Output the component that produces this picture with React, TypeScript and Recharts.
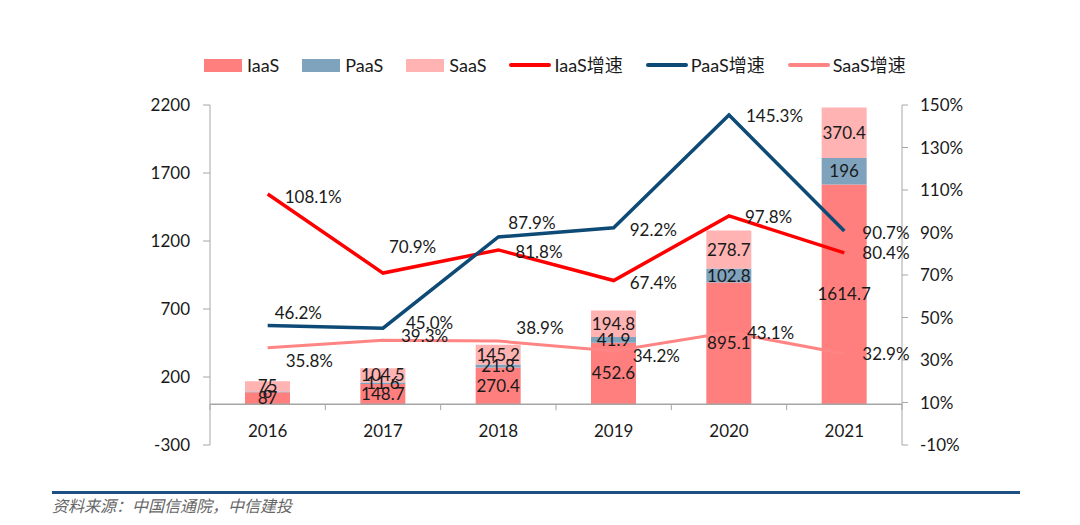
import {
  ComposedChart,
  Bar,
  Line,
  XAxis,
  YAxis,
  LabelList,
  ReferenceLine,
} from "recharts";

const years = ["2016", "2017", "2018", "2019", "2020", "2021"];
const iaas = [87, 148.7, 270.4, 452.6, 895.1, 1614.7];
const paas = [6, 11.6, 21.8, 41.9, 102.8, 196];
const saas = [75, 104.5, 145.2, 194.8, 278.7, 370.4];
const iaasGrowth = [108.1, 70.9, 81.8, 67.4, 97.8, 80.4];
const paasGrowth = [46.2, 45.0, 87.9, 92.2, 145.3, 90.7];
const saasGrowth = [35.8, 39.3, 38.9, 34.2, 43.1, 32.9];
const leftTicks = [-300, 200, 700, 1200, 1700, 2200];
const rightTicks = [-10, 10, 30, 50, 70, 90, 110, 130, 150];

const data = years.map((year, i) => ({
  year,
  iaas: iaas[i],
  paas: paas[i],
  saas: saas[i],
  iaasGrowth: iaasGrowth[i],
  paasGrowth: paasGrowth[i],
  saasGrowth: saasGrowth[i],
}));

// label nudges for the growth lines, [dx, dy] from the point
const iaasNudge = [[17, 2], [6, -27], [17, 2], [16, 2], [16, 1], [18, 0]];
const paasNudge = [[7, -13], [23, -6], [10, -14], [16, 2], [17, 1], [18, 1]];
const saasNudge = [[18, 13], [18, -5], [18, -14], [19, 4], [18, 0], [18, 0]];

const FONT = "Lato, 'Noto Sans', sans-serif";
const TXT = "#1a1a1a";
const AXIS = "#a6a6a6";

const C = {
  iaas: "#ff7f7f",
  paas: "#7fa2bd",
  saas: "#ffb3b3",
  iaasLine: "#ff0000",
  paasLine: "#0e4a76",
  saasLine: "#ff8585",
};

// plot geometry
const PLOT_LEFT = 210;
const PLOT_RIGHT = 902;
const PLOT_TOP = 105;
const PLOT_BOTTOM = 445;
const X_AXIS_H = 30;
const zeroY = PLOT_BOTTOM - (300 / 2500) * (PLOT_BOTTOM - PLOT_TOP);
const band = (PLOT_RIGHT - PLOT_LEFT) / years.length;

const growthLabel = (nudge: number[][]) => (props: any) => {
  const { x, y, value, index } = props;
  const [dx, dy] = nudge[index] || [16, 0];
  return (
    <text
      x={x + dx}
      y={y + dy}
      textAnchor="start"
      dominantBaseline="central"
      fontFamily={FONT}
      fontSize={17}
      fill={TXT}
    >
      {value.toFixed(1)}%
    </text>
  );
};

const YearTick = (props: any) => {
  const { x, payload, index } = props;
  const left = x - band / 2;
  return (
    <g>
      <line x1={left} x2={left} y1={zeroY} y2={zeroY + 6} stroke={AXIS} />
      {index === years.length - 1 && (
        <line x1={x + band / 2} x2={x + band / 2} y1={zeroY} y2={zeroY + 6} stroke={AXIS} />
      )}
      <text
        x={x}
        y={zeroY + 26}
        textAnchor="middle"
        dominantBaseline="central"
        fontFamily={FONT}
        fontSize={17}
        fill={TXT}
      >
        {payload.value}
      </text>
    </g>
  );
};

const legendItems = [
  { name: "IaaS", color: C.iaas, type: "bar" },
  { name: "PaaS", color: C.paas, type: "bar" },
  { name: "SaaS", color: C.saas, type: "bar" },
  { name: "IaaS增速", color: C.iaasLine, type: "line" },
  { name: "PaaS增速", color: C.paasLine, type: "line" },
  { name: "SaaS增速", color: C.saasLine, type: "line" },
];

const Legend = () => (
  <div
    style={{
      position: "absolute",
      left: 204,
      top: 54,
      display: "flex",
      gap: 23,
      alignItems: "center",
      fontFamily: "Lato, 'Noto Sans CJK SC', sans-serif",
      fontSize: 18,
      color: TXT,
      lineHeight: "22px",
    }}
  >
    {legendItems.map((it) => (
      <div key={it.name} style={{ display: "flex", alignItems: "center", gap: it.type === "bar" ? 5 : 3 }}>
        <span
          style={{
            display: "inline-block",
            width: it.type === "bar" ? 38 : 42,
            height: it.type === "bar" ? 13 : 4,
            borderRadius: it.type === "bar" ? 0 : 2,
            background: it.color,
          }}
        />
        <span>{it.name}</span>
      </div>
    ))}
  </div>
);

const barLabel = {
  position: "center" as const,
  fontFamily: FONT,
  fontSize: 17,
  fill: TXT,
};

export default function App() {
  return (
    <div
      style={{
        position: "absolute",
        left: 0,
        top: 0,
        width: 1080,
        height: 525,
        background: "#fff",
      }}
    >
      <Legend />
      <ComposedChart
        width={1080}
        height={525}
        data={data}
        margin={{ top: PLOT_TOP, right: 98, bottom: 525 - PLOT_BOTTOM - X_AXIS_H, left: 0 }}
      >
        <XAxis
          dataKey="year"
          height={X_AXIS_H}
          axisLine={false}
          tickLine={false}
          tickSize={0}
          tickMargin={0}
          tick={<YearTick />}
          interval={0}
        />
        <YAxis
          yAxisId="left"
          width={210}
          domain={[-300, 2200]}
          ticks={leftTicks}
          allowDataOverflow
          stroke={AXIS}
          tickSize={7}
          tickMargin={13}
          tick={{ fontFamily: FONT, fontSize: 17, fill: TXT }}
        />
        <YAxis
          yAxisId="right"
          orientation="right"
          width={80}
          domain={[-10, 150]}
          ticks={rightTicks}
          tickFormatter={(v) => `${v}%`}
          stroke={AXIS}
          tickSize={6}
          tickMargin={12}
          tick={{ fontFamily: FONT, fontSize: 17, fill: TXT }}
        />
        <ReferenceLine yAxisId="left" y={0} stroke={AXIS} strokeWidth={1.5} />
        <Bar dataKey="iaas" stackId="a" yAxisId="left" fill={C.iaas} barSize={45} isAnimationActive={false}>
          <LabelList dataKey="iaas" {...barLabel} />
        </Bar>
        <Bar dataKey="paas" stackId="a" yAxisId="left" fill={C.paas} barSize={45} isAnimationActive={false}>
          <LabelList dataKey="paas" {...barLabel} />
        </Bar>
        <Bar dataKey="saas" stackId="a" yAxisId="left" fill={C.saas} barSize={45} isAnimationActive={false}>
          <LabelList dataKey="saas" {...barLabel} />
        </Bar>
        <Line
          dataKey="saasGrowth"
          yAxisId="right"
          stroke={C.saasLine}
          strokeWidth={3}
          dot={false}
          isAnimationActive={false}
        >
          <LabelList dataKey="saasGrowth" content={growthLabel(saasNudge)} />
        </Line>
        <Line
          dataKey="iaasGrowth"
          yAxisId="right"
          stroke={C.iaasLine}
          strokeWidth={3.5}
          dot={false}
          isAnimationActive={false}
        >
          <LabelList dataKey="iaasGrowth" content={growthLabel(iaasNudge)} />
        </Line>
        <Line
          dataKey="paasGrowth"
          yAxisId="right"
          stroke={C.paasLine}
          strokeWidth={3.5}
          dot={false}
          isAnimationActive={false}
        >
          <LabelList dataKey="paasGrowth" content={growthLabel(paasNudge)} />
        </Line>
      </ComposedChart>
      <div
        style={{
          position: "absolute",
          left: 52,
          top: 491,
          width: 968,
          height: 3,
          background: "#1f5083",
        }}
      />
      <div
        style={{
          position: "absolute",
          left: 52,
          top: 495,
          fontFamily: "'Noto Sans CJK SC', sans-serif",
          fontStyle: "italic",
          fontSize: 16,
          color: "#666",
          lineHeight: "20px",
        }}
      >
        资料来源：中国信通院，中信建投
      </div>
    </div>
  );
}
